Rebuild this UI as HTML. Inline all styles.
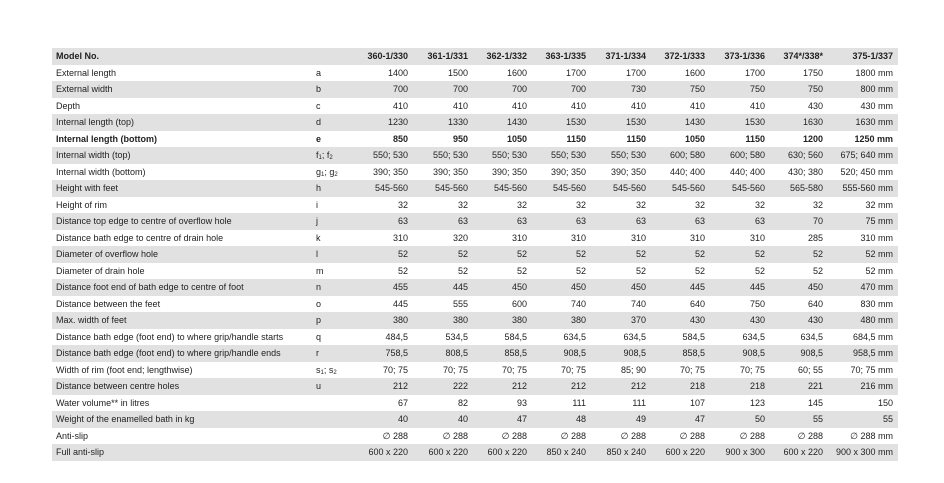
<!DOCTYPE html>
<html><head><meta charset="utf-8"><style>
html,body{margin:0;padding:0;background:#fff;width:944px;height:483px;overflow:hidden}
table{position:absolute;left:52px;top:48px;border-collapse:collapse;table-layout:fixed;width:846px;font-family:"Liberation Sans",sans-serif;font-size:9px;color:#222}
td{height:16.5px;padding:0;white-space:nowrap;text-align:right;line-height:16.5px}
td:first-child{text-align:left;padding-left:4px}
td:nth-child(2){text-align:left}
td:last-child{padding-right:5px}
tr:nth-child(odd){background:#e1e1e1}
tr.b td{font-weight:bold}
sub{font-size:6px;vertical-align:-1px;line-height:0}
</style></head><body>
<table>
<colgroup><col style="width:264px"><col style="width:34px"><col style="width:58px"><col style="width:60px"><col style="width:59px"><col style="width:59px"><col style="width:60px"><col style="width:59px"><col style="width:60px"><col style="width:58px"><col style="width:75px"></colgroup>
<tr class="b"><td>Model No.</td><td></td><td>360-1/330</td><td>361-1/331</td><td>362-1/332</td><td>363-1/335</td><td>371-1/334</td><td>372-1/333</td><td>373-1/336</td><td>374*/338*</td><td>375-1/337</td></tr>
<tr><td>External length</td><td>a</td><td>1400</td><td>1500</td><td>1600</td><td>1700</td><td>1700</td><td>1600</td><td>1700</td><td>1750</td><td>1800 mm</td></tr>
<tr><td>External width</td><td>b</td><td>700</td><td>700</td><td>700</td><td>700</td><td>730</td><td>750</td><td>750</td><td>750</td><td>800 mm</td></tr>
<tr><td>Depth</td><td>c</td><td>410</td><td>410</td><td>410</td><td>410</td><td>410</td><td>410</td><td>410</td><td>430</td><td>430 mm</td></tr>
<tr><td>Internal length (top)</td><td>d</td><td>1230</td><td>1330</td><td>1430</td><td>1530</td><td>1530</td><td>1430</td><td>1530</td><td>1630</td><td>1630 mm</td></tr>
<tr class="b"><td>Internal length (bottom)</td><td>e</td><td>850</td><td>950</td><td>1050</td><td>1150</td><td>1150</td><td>1050</td><td>1150</td><td>1200</td><td>1250 mm</td></tr>
<tr><td>Internal width (top)</td><td>f<sub>1</sub>; f<sub>2</sub></td><td>550; 530</td><td>550; 530</td><td>550; 530</td><td>550; 530</td><td>550; 530</td><td>600; 580</td><td>600; 580</td><td>630; 560</td><td>675; 640 mm</td></tr>
<tr><td>Internal width (bottom)</td><td>g<sub>1</sub>; g<sub>2</sub></td><td>390; 350</td><td>390; 350</td><td>390; 350</td><td>390; 350</td><td>390; 350</td><td>440; 400</td><td>440; 400</td><td>430; 380</td><td>520; 450 mm</td></tr>
<tr><td>Height with feet</td><td>h</td><td>545-560</td><td>545-560</td><td>545-560</td><td>545-560</td><td>545-560</td><td>545-560</td><td>545-560</td><td>565-580</td><td>555-560 mm</td></tr>
<tr><td>Height of rim</td><td>i</td><td>32</td><td>32</td><td>32</td><td>32</td><td>32</td><td>32</td><td>32</td><td>32</td><td>32 mm</td></tr>
<tr><td>Distance top edge to centre of overflow hole</td><td>j</td><td>63</td><td>63</td><td>63</td><td>63</td><td>63</td><td>63</td><td>63</td><td>70</td><td>75 mm</td></tr>
<tr><td>Distance bath edge to centre of drain hole</td><td>k</td><td>310</td><td>320</td><td>310</td><td>310</td><td>310</td><td>310</td><td>310</td><td>285</td><td>310 mm</td></tr>
<tr><td>Diameter of overflow hole</td><td>l</td><td>52</td><td>52</td><td>52</td><td>52</td><td>52</td><td>52</td><td>52</td><td>52</td><td>52 mm</td></tr>
<tr><td>Diameter of drain hole</td><td>m</td><td>52</td><td>52</td><td>52</td><td>52</td><td>52</td><td>52</td><td>52</td><td>52</td><td>52 mm</td></tr>
<tr><td>Distance foot end of bath edge to centre of foot</td><td>n</td><td>455</td><td>445</td><td>450</td><td>450</td><td>450</td><td>445</td><td>445</td><td>450</td><td>470 mm</td></tr>
<tr><td>Distance between the feet</td><td>o</td><td>445</td><td>555</td><td>600</td><td>740</td><td>740</td><td>640</td><td>750</td><td>640</td><td>830 mm</td></tr>
<tr><td>Max. width of feet</td><td>p</td><td>380</td><td>380</td><td>380</td><td>380</td><td>370</td><td>430</td><td>430</td><td>430</td><td>480 mm</td></tr>
<tr><td>Distance bath edge (foot end) to where grip/handle starts</td><td>q</td><td>484,5</td><td>534,5</td><td>584,5</td><td>634,5</td><td>634,5</td><td>584,5</td><td>634,5</td><td>634,5</td><td>684,5 mm</td></tr>
<tr><td>Distance bath edge (foot end) to where grip/handle ends</td><td>r</td><td>758,5</td><td>808,5</td><td>858,5</td><td>908,5</td><td>908,5</td><td>858,5</td><td>908,5</td><td>908,5</td><td>958,5 mm</td></tr>
<tr><td>Width of rim (foot end; lengthwise)</td><td>s<sub>1</sub>; s<sub>2</sub></td><td>70; 75</td><td>70; 75</td><td>70; 75</td><td>70; 75</td><td>85; 90</td><td>70; 75</td><td>70; 75</td><td>60; 55</td><td>70; 75 mm</td></tr>
<tr><td>Distance between centre holes</td><td>u</td><td>212</td><td>222</td><td>212</td><td>212</td><td>212</td><td>218</td><td>218</td><td>221</td><td>216 mm</td></tr>
<tr><td>Water volume** in litres</td><td></td><td>67</td><td>82</td><td>93</td><td>111</td><td>111</td><td>107</td><td>123</td><td>145</td><td>150</td></tr>
<tr><td>Weight of the enamelled bath in kg</td><td></td><td>40</td><td>40</td><td>47</td><td>48</td><td>49</td><td>47</td><td>50</td><td>55</td><td>55</td></tr>
<tr><td>Anti-slip</td><td></td><td>∅ 288</td><td>∅ 288</td><td>∅ 288</td><td>∅ 288</td><td>∅ 288</td><td>∅ 288</td><td>∅ 288</td><td>∅ 288</td><td>∅ 288 mm</td></tr>
<tr><td>Full anti-slip</td><td></td><td>600 x 220</td><td>600 x 220</td><td>600 x 220</td><td>850 x 240</td><td>850 x 240</td><td>600 x 220</td><td>900 x 300</td><td>600 x 220</td><td>900 x 300 mm</td></tr>
</table>
</body></html>
